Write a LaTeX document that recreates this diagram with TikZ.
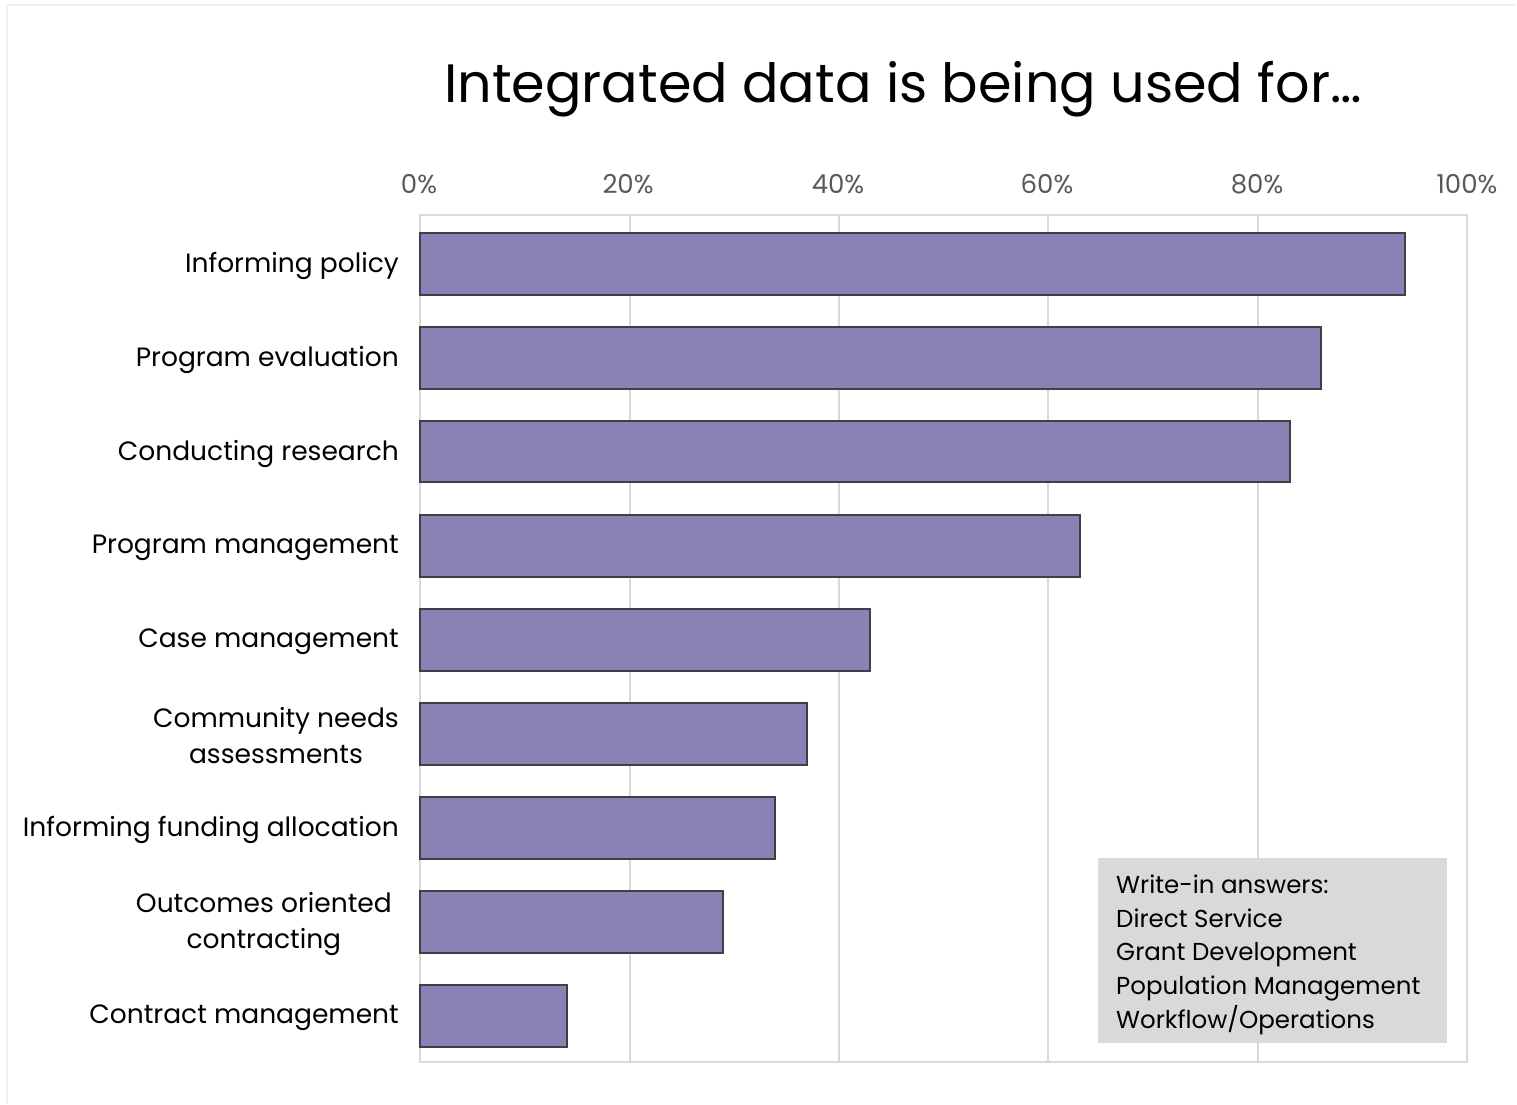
\documentclass[tikz,border=0pt]{standalone}
\usepackage{fontspec}
\setmainfont{Poppins}
\definecolor{barfill}{HTML}{8A82B4}
\definecolor{baredge}{HTML}{3F3F46}
\definecolor{gridc}{HTML}{D9D9D9}
\definecolor{tickc}{HTML}{595959}
\definecolor{boxc}{HTML}{D9D9D9}
\tikzset{
  bar/.style={draw=baredge, line width=1.6pt, fill=barfill},
  gridline/.style={draw=gridc, line width=1.5pt},
  ticklabel/.style={text=tickc, font=\fontsize{26}{30}\selectfont, anchor=center, inner sep=0pt},
  catlabel/.style={font=\fontsize{26.5}{36}\selectfont, anchor=east, align=center, inner sep=0pt},
}
\begin{document}
\begin{tikzpicture}[x=1pt,y=-1pt]
\useasboundingbox (0,0) rectangle (1517,1104);
\fill[white] (0,0) rectangle (1517,1104);
\draw[gray!12, line width=1.5pt] (7,5) -- (1515,5);
\draw[gray!12, line width=1.5pt] (7,5) -- (7,1104);
\node[font=\fontsize{54}{60}\selectfont, inner sep=0pt, anchor=base] (title) at (903,102) {Integrated data is being used for…};
% plot area
\draw[gridline] (420,215) rectangle (1467,1062);
\foreach \xx in {630,839,1048,1258} \draw[gridline] (\xx,215) -- (\xx,1062);
\node[ticklabel] (t0) at (419,184) {0\%};
\node[ticklabel] (t20) at (628,184) {20\%};
\node[ticklabel] (t40) at (838,184) {40\%};
\node[ticklabel] (t60) at (1047,184) {60\%};
\node[ticklabel] (t80) at (1257,184) {80\%};
\node[ticklabel] (t100) at (1467,184) {100\%};
% bars
\draw[bar] (420,233) rectangle (1405,295);
\draw[bar] (420,327) rectangle (1321,389);
\draw[bar] (420,421) rectangle (1290,482);
\draw[bar] (420,515) rectangle (1080,577);
\draw[bar] (420,609) rectangle (870,671);
\draw[bar] (420,703) rectangle (807,765);
\draw[bar] (420,797) rectangle (775,859);
\draw[bar] (420,891) rectangle (723,953);
\draw[bar] (420,985) rectangle (567,1047);
% labels
\node[catlabel] (l1) at (399,266) {Informing policy};
\node[catlabel] (l2) at (399,360) {Program evaluation};
\node[catlabel] (l3) at (399,454) {Conducting research};
\node[catlabel] (l4) at (399,548) {Program management};
\node[catlabel] (l5) at (399,642) {Case management};
\node[catlabel] (l6) at (399,736) {Community needs\\assessments};
\node[catlabel] (l7) at (399,830) {Informing funding allocation};
\node[catlabel] (l8) at (392,924) {Outcomes oriented\\contracting};
\node[catlabel] (l9) at (399,1018) {Contract management};
% write-in box
\fill[boxc] (1098,858) rectangle (1447,1043);
\node[font=\fontsize{24.5}{33.6}\selectfont, align=left, anchor=base west, inner sep=0pt] (wi) at (1116,1028) {Write-in answers:\\Direct Service\\Grant Development\\Population Management\\Workflow/Operations};
\end{tikzpicture}
\end{document}
